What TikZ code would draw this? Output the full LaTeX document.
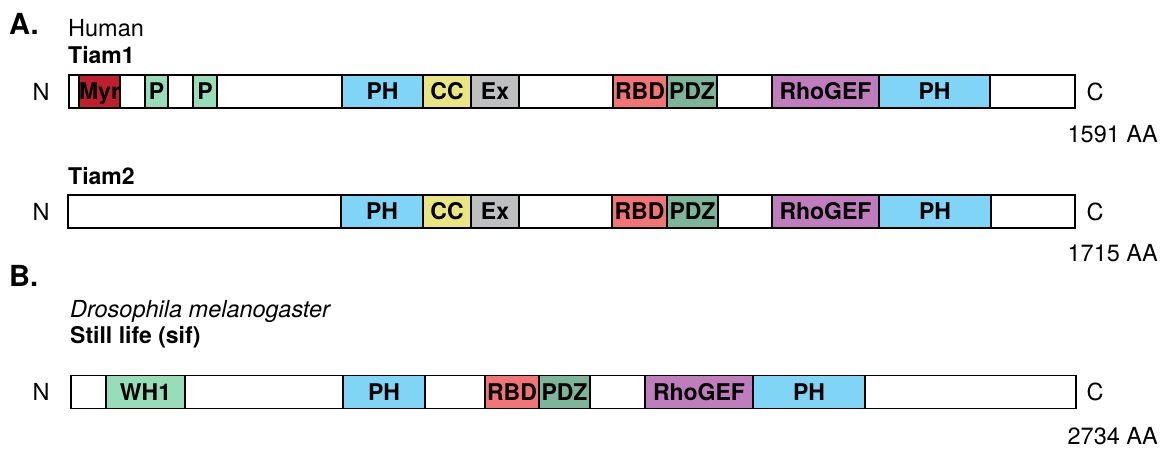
\documentclass[tikz,border=0pt]{standalone}
\usepackage{fontspec}
\setmainfont{TeX Gyre Heros}

% domain fill colours
\definecolor{myrred}{HTML}{BF1E2D}
\definecolor{mint}{HTML}{98DDBA}
\definecolor{phblue}{HTML}{80D5F7}
\definecolor{ccyellow}{HTML}{E9E682}
\definecolor{exgray}{HTML}{BEBFC1}
\definecolor{rbdred}{HTML}{F27474}
\definecolor{pdzgreen}{HTML}{7DB59A}
\definecolor{gefpurple}{HTML}{BF7DBE}

% one domain: name, start, end, row centre, fill, label
\newcommand\domain[6]{%
  \node[domainbox, fill=#5, minimum width={(#3-#2)*1pt}] (#1) at ({(#2+#3)/2},#4) {#6};}
% a whole chain: name, start, end, row centre
\newcommand\chainline[4]{%
  \node[chainbox, minimum width={(#3-#2)*1pt}] (#1) at ({(#2+#3)/2},#4) {};}

\begin{document}
\begin{tikzpicture}[x=1pt,y=-1pt,
  body/.style={inner sep=0pt, font=\fontsize{23.5}{26}\selectfont},
  bodybold/.style={inner sep=0pt, font=\fontsize{23}{26}\selectfont\bfseries},
  panel/.style={inner sep=0pt, font=\fontsize{29}{31}\selectfont\bfseries},
  chainbox/.style={draw=black, fill=white, line width=1.8pt, minimum height=33pt, inner sep=0pt},
  domainbox/.style={draw=black, line width=1.8pt, minimum height=33pt, inner sep=0pt,
    text height=16.5pt, text depth=0pt, font=\fontsize{23}{26}\selectfont\bfseries},
  term/.style={inner sep=0pt, font=\fontsize{23.5}{26}\selectfont}]
\useasboundingbox (0,0) rectangle (1162,448);

% ---------------- panel A ----------------
\node[panel, anchor=base west] (labA) at (9,34) {A.};
\node[body, anchor=base west] (human) at (68,36) {Human};

% Tiam1
\node[bodybold, anchor=base west] (tiam1) at (68,63) {Tiam1};
\chainline{t1}{69}{1075}{91.5}
\domain{t1myr}{79}{120}{91.5}{myrred}{Myr}
\domain{t1pa}{145}{168}{91.5}{mint}{P}
\domain{t1pb}{193}{217}{91.5}{mint}{P}
\domain{t1ph}{342}{423}{91.5}{phblue}{PH}
\domain{t1cc}{423}{471}{91.5}{ccyellow}{CC}
\domain{t1ex}{471}{519}{91.5}{exgray}{Ex}
\domain{t1rbd}{613}{667}{91.5}{rbdred}{RBD}
\domain{t1pdz}{667}{717}{91.5}{pdzgreen}{PDZ}
\domain{t1gef}{772}{879}{91.5}{gefpurple}{RhoGEF}
\domain{t1phb}{879}{990}{91.5}{phblue}{PH}
\node[term] (t1n) at (41,91.5) {N};
\node[term] (t1c) at (1095,91.5) {C};
\node[body, anchor=base east] (t1len) at (1158,142) {1591 AA};

% Tiam2
\node[bodybold, anchor=base west] (tiam2) at (68,184) {Tiam2};
\chainline{t2}{68}{1075}{211.5}
\domain{t2ph}{341}{423}{211.5}{phblue}{PH}
\domain{t2cc}{423}{471}{211.5}{ccyellow}{CC}
\domain{t2ex}{471}{519}{211.5}{exgray}{Ex}
\domain{t2rbd}{612}{667}{211.5}{rbdred}{RBD}
\domain{t2pdz}{667}{718}{211.5}{pdzgreen}{PDZ}
\domain{t2gef}{772}{879}{211.5}{gefpurple}{RhoGEF}
\domain{t2phb}{879}{991}{211.5}{phblue}{PH}
\node[term] (t2n) at (41,211.5) {N};
\node[term] (t2c) at (1095,211.5) {C};
\node[body, anchor=base east] (t2len) at (1158,261) {1715 AA};

% ---------------- panel B ----------------
\node[panel, anchor=base west] (labB) at (9,286) {B.};
\node[body, anchor=base west] (species) at (70,317) {\itshape Drosophila melanogaster};
\node[bodybold, anchor=base west] (sif) at (70,343) {Still life (sif)};
\chainline{s}{71}{1076}{392}
\domain{swh}{106}{185}{392}{mint}{WH1}
\domain{sph}{343}{425}{392}{phblue}{PH}
\domain{srbd}{485}{539}{392}{rbdred}{RBD}
\domain{spdz}{539}{590}{392}{pdzgreen}{PDZ}
\domain{sgef}{645}{753}{392}{gefpurple}{RhoGEF}
\domain{sphb}{753}{865}{392}{phblue}{PH}
\node[term] (sn) at (41,392) {N};
\node[term] (sc) at (1095,392) {C};
\node[body, anchor=base east] (slen) at (1158,444) {2734 AA};
\end{tikzpicture}
\end{document}
